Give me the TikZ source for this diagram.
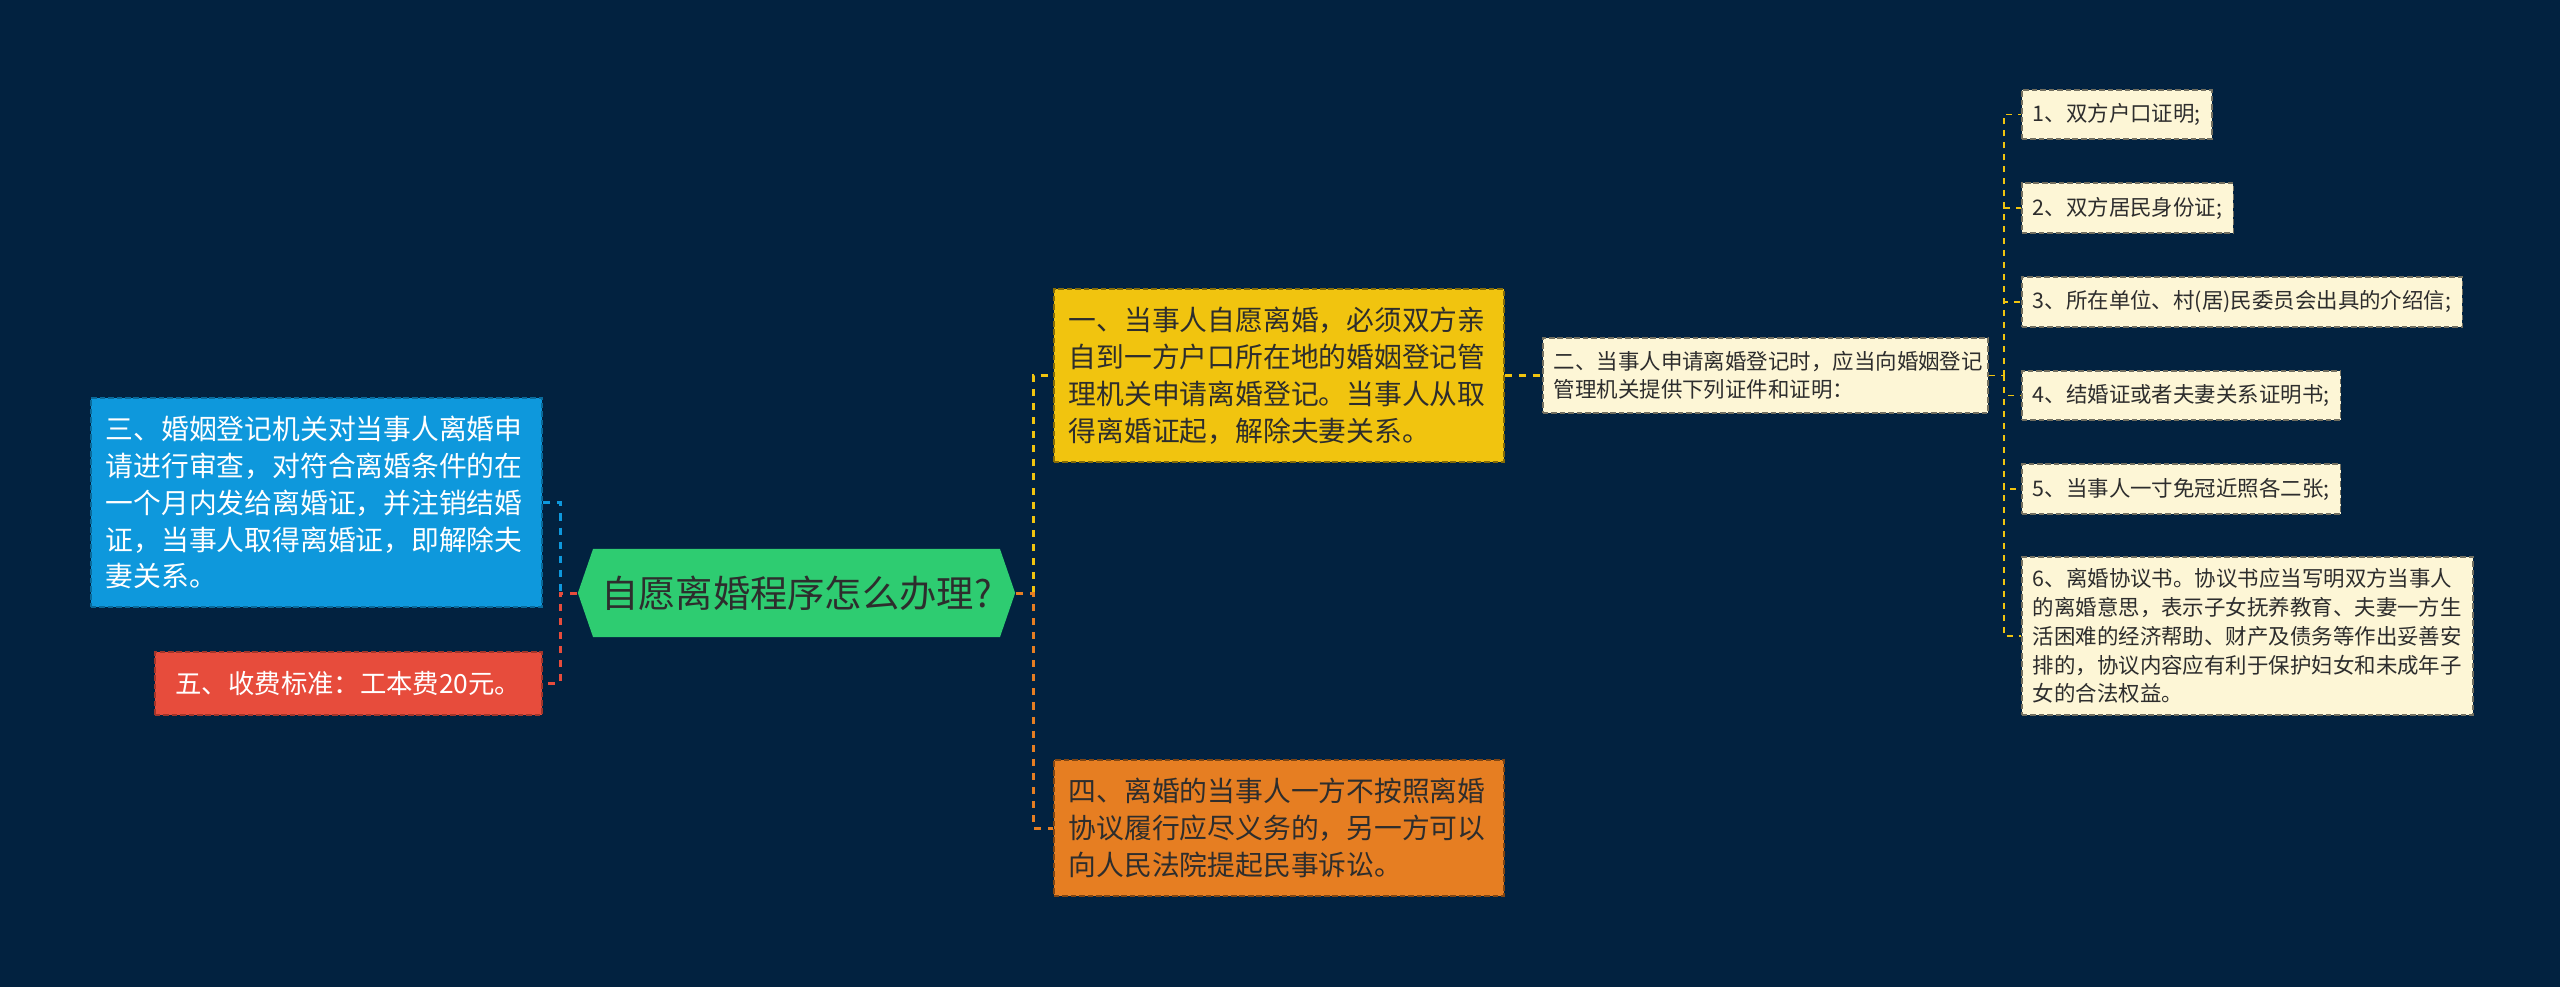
\documentclass[tikz,border=0pt]{standalone}
\usepackage{fontspec}
\setmainfont{Noto Sans CJK SC}
\usepackage{tikz}
\usetikzlibrary{shapes.symbols}
\definecolor{bgnavy}{RGB}{2,34,64}
\definecolor{cblue}{RGB}{14,152,220}
\definecolor{cred}{RGB}{231,76,60}
\definecolor{cgreen}{RGB}{46,204,113}
\definecolor{cyellow}{RGB}{241,196,15}
\definecolor{corange}{RGB}{230,126,34}
\definecolor{ccream}{RGB}{253,246,214}
\definecolor{ctext}{RGB}{45,45,45}
\tikzset{
  bx/.style={rectangle, draw, dash pattern=on 1.6pt off 0.8pt, line width=0.45pt,
             align=left, anchor=west, inner xsep=0.15cm, inner ysep=2pt},
  bigtxt/.style={font={\fontsize{7.9pt}{10.5pt}\selectfont}},
  smtxt/.style={font={\fontsize{6.1pt}{7.9pt}\selectfont}, inner xsep=0.11cm},
  bluebox/.style={bx, bigtxt, fill=cblue, draw=cblue!70!black, text=white},
  redbox/.style={bx, font={\fontsize{7.5pt}{10pt}\selectfont}, fill=cred, draw=cred!70!black, text=white},
  yelbox/.style={bx, bigtxt, fill=cyellow, draw=cyellow!55!black, text=ctext},
  orabox/.style={bx, bigtxt, fill=corange, draw=corange!55!black, text=ctext},
  cream/.style={bx, smtxt, fill=ccream, draw=ccream!45!black, text=ctext},
  root/.style={signal, signal to=west and east, signal pointer angle=142,
               fill=cgreen, text=ctext, minimum width=4.37cm, minimum height=0.88cm,
               inner sep=0pt, font={\fontsize{10.6pt}{12pt}\selectfont}},
  ln/.style={dash pattern=on 2pt off 2pt, line width=0.85pt},
  iln/.style={dash pattern=on 1.7pt off 1.7pt, line width=0.55pt, draw=cyellow},
}

\begin{document}
\begin{tikzpicture}[x=0.01cm,y=-0.01cm]
\fill[bgnavy] (0,0) rectangle (2560,987);
\useasboundingbox (0,0) rectangle (2560,987);

% centre and left side
\node[root] (root) at (796.5,593) {自愿离婚程序怎么办理?};
\node[bluebox, minimum height=2.09cm, text width=4.21cm] (shen) at (90,502.5)
  {三、婚姻登记机关对当事人离婚申\\请进行审查，对符合离婚条件的在\\一个月内发给离婚证，并注销结婚\\证，当事人取得离婚证，即解除夫\\妻关系。};
\node[redbox, minimum height=0.63cm, minimum width=3.87cm, align=center] (fee) at (154,683.5)
  {五、收费标准：工本费20元。};

% right side
\node[yelbox, minimum height=1.73cm, text width=4.20cm] (apply) at (1053,375.5)
  {一、当事人自愿离婚，必须双方亲\\自到一方户口所在地的婚姻登记管\\理机关申请离婚登记。当事人从取\\得离婚证起，解除夫妻关系。};
\node[orabox, minimum height=1.36cm, text width=4.20cm] (suit) at (1053,828)
  {四、离婚的当事人一方不按照离婚\\协议履行应尽义务的，另一方可以\\向人民法院提起民事诉讼。};
\node[cream, minimum height=0.75cm, text width=4.23cm] (docs) at (1542,375.5)
  {二、当事人申请离婚登记时，应当向婚姻登记\\管理机关提供下列证件和证明：};

% list of papers
\node[cream, minimum height=0.49cm] (it1) at (2021,114.5) {1、双方户口证明;};
\node[cream, minimum height=0.50cm] (it2) at (2021,208) {2、双方居民身份证;};
\node[cream, minimum height=0.50cm] (it3) at (2021,302) {3、所在单位、村(居)民委员会出具的介绍信;};
\node[cream, minimum height=0.49cm, minimum width=2.82cm] (it4) at (2021,395.5) {4、结婚证或者夫妻关系证明书;};
\node[cream, minimum height=0.50cm, minimum width=2.82cm] (it5) at (2021,489) {5、当事人一寸免冠近照各二张;};
\node[cream, minimum height=1.58cm, font={\fontsize{6.1pt}{8.2pt}\selectfont}] (it6) at (2021,636)
  {6、离婚协议书。协议书应当写明双方当事人\\的离婚意思，表示子女抚养教育、夫妻一方生\\活困难的经济帮助、财产及债务等作出妥善安\\排的，协议内容应有利于保护妇女和未成年子\\女的合法权益。};

\coordinate (lj) at (560,593);
\coordinate (rj) at (1033,593);
\coordinate (ij) at (2004,375.5);

\draw[ln, draw=cblue] (shen.east) -| (lj);
\draw[ln, draw=cred] (root.west) -- (lj) |- (fee.east);
\draw[ln, draw=cyellow] (rj) |- (apply.west);
\draw[ln, draw=corange] (root.east) -- (rj) |- (suit.west);
\draw[ln, draw=cyellow, line width=0.6pt] (apply.east) -- (docs.west);
\draw[iln] (docs.east) -- (ij);
\foreach \i in {1,...,6}
  \draw[iln] (ij) |- (it\i.west);
\end{tikzpicture}
\end{document}
